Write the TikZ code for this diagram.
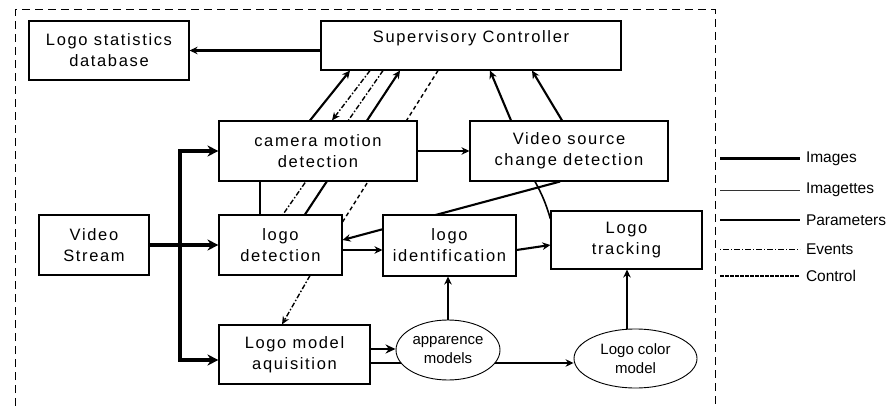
\documentclass[tikz,border=0pt]{standalone}
\usepackage{fontspec}
\setmainfont{Liberation Sans}
\newfontfamily\boxfont{Liberation Sans}[LetterSpace=10]
\usetikzlibrary{arrows.meta,shapes.geometric,calc}
\pgfdeclarelayer{bg}
\pgfsetlayers{bg,main}
\begin{document}
\begin{tikzpicture}[x=1pt,y=-1pt,
  box/.style={draw=black,line width=1.1pt,fill=white,inner sep=0pt,align=center,font=\boxfont\fontsize{16.5}{21}\selectfont},
  oval/.style={ellipse,draw=black,line width=0.9pt,fill=white,inner sep=0pt,align=center,font=\fontsize{15}{19}\selectfont},
  txt/.style={inner sep=0pt,font=\boxfont\fontsize{16.5}{21}\selectfont},
  legtxt/.style={anchor=west,inner sep=0pt,outer xsep=6pt,font=\fontsize{15.5}{18}\selectfont},
  img/.style={line width=3.4pt,-{Stealth[length=11pt,width=11pt]}},
  imgb/.style={line width=2.6pt,-{Stealth[length=10pt,width=9pt]}},
  par/.style={line width=2.1pt,-{Stealth[length=8pt,width=7.5pt]}},
  parline/.style={line width=2.1pt},
  evt/.style={line width=1.4pt,dash pattern=on 5pt off 2pt on 1.5pt off 2pt,-{Stealth[length=8pt,width=7pt]}},
  evtline/.style={line width=1.4pt,dash pattern=on 5pt off 2pt on 1.5pt off 2pt},
  ctlline/.style={line width=1.4pt,dash pattern=on 4pt off 3pt},
  border/.style={line width=1pt,dash pattern=on 8pt off 5pt}
]
\useasboundingbox (0,0) rectangle (891,406);

% nodes
\node[box,minimum width=160pt,minimum height=59pt] (db) at (109,50.5) {Logo statistics\\database};
\node[box,minimum width=300pt,minimum height=49pt] (sup) at (471,45.5) {};
\node[txt] (supt) at (471,38) {Supervisory Controller};
\node[box,minimum width=198pt,minimum height=60pt] (cam) at (318,151) {camera motion\\detection};
\node[box,minimum width=198pt,minimum height=60pt] (vscd) at (569,151) {Video source\\change detection};
\node[box,minimum width=110pt,minimum height=60pt] (vs) at (94,245) {Video\\Stream};
\node[box,minimum width=123pt,minimum height=60pt] (ld) at (280.5,245) {logo\\detection};
\node[box,minimum width=133pt,minimum height=61pt] (lid) at (449.5,245.5) {logo\\identification};
\node[box,minimum width=151pt,minimum height=58pt] (lt) at (626.5,240) {Logo\\tracking};
\node[box,minimum width=151pt,minimum height=59pt] (lma) at (294.5,354.5) {Logo model\\aquisition};
\node[oval,minimum width=104pt,minimum height=60pt] (am) at (448,350) {apparence\\models};
\node[oval,minimum width=123pt,minimum height=59pt] (lcm) at (635.5,358.5) {Logo color\\model};

% legend
\node[legtxt] (l1) at (800,159) {Images};
\node[legtxt] (l2) at (800,190) {Imagettes};
\node[legtxt] (l3) at (800,220) {Parameters};
\node[legtxt] (l4) at (800,249) {Events};
\node[legtxt] (l5) at (800,276) {Control};
\coordinate (l1s) at (720,159);
\coordinate (l2s) at (720,190);
\coordinate (l3s) at (720,220);
\coordinate (l4s) at (720,249);
\coordinate (l5s) at (720,276);
\draw[line width=3pt] (l1s) -- (l1.west);
\draw[line width=0.9pt,black!80] (l2s) -- (l2.west);
\draw[line width=1.1pt] (l3s) -- (l3.west);
\draw[line width=1pt,dash pattern=on 1pt off 2pt on 6pt off 2pt] (l4s) -- (l4.west);
\draw[line width=2pt,dash pattern=on 3.5pt off 1.5pt] (l5s) -- (l5.west);

\begin{pgfonlayer}{bg}
% border
\coordinate (b1) at (15,406);
\coordinate (b2) at (15,10);
\coordinate (b3) at (715,10);
\coordinate (b4) at (715,406);
\draw[border] (b1) -- (b2) -- (b3) -- (b4);

% supervisory -> database
\draw[par] (sup.west |- db.east) -- (db.east);

% video stream distribution
\coordinate (jx) at (180,0);
\coordinate (jn) at (vs.east -| jx);
\draw[img] (vs.east) -- (ld.west);
\draw[img] (jn) |- (cam.west);
\draw[img] (jn) |- ([yshift=-5.5pt]lma.west);

% camera motion -> video source change
\draw[par] (cam.east) -- (vscd.west);
% camera motion - logo detection
\coordinate (vx) at (260,0);
\draw[parline] (cam.south -| vx) -- (ld.north -| vx);

% diagonals with supervisory
\draw[par] ([xshift=-8pt]cam.north) -- ([xshift=-121pt]sup.south);
\draw[evt] ([xshift=-101pt]sup.south) -- ([xshift=14pt]cam.north);
\draw[evtline] ([xshift=-88pt]sup.south) -- ([xshift=2.5pt]ld.north);
\draw[par] ([xshift=24.5pt]ld.north) -- ([xshift=-71pt]sup.south);
\draw[ctlline] ([xshift=-33pt]sup.south) -- ([yshift=23pt]ld.east);

% video source change -> supervisory
\draw[par] ([xshift=-58pt]vscd.north) -- ([xshift=19pt]sup.south);
\draw[par] ([xshift=-7pt]vscd.north) -- ([xshift=61pt]sup.south);
% video source change -> logo detection
\draw[par] ([xshift=-9pt]vscd.south) -- ([yshift=5pt]ld.east);
% video source change - logo tracking
\draw[line width=1.6pt] ([xshift=-34pt]vscd.south) to[bend left=6] ([yshift=21pt]lt.west);

% logo detection -> identification -> tracking
\draw[par] ([yshift=-5pt]ld.east) -- ([yshift=-5pt]ld.east -| lid.west);
\draw[par] ([yshift=-4.5pt]lid.east) -- ([yshift=-5pt]lt.west);
% models
\draw[par] (am.north) -- (am.north |- lid.south);
\draw[par] ([xshift=-8.5pt]lcm.north) -- ([xshift=-8.5pt]lcm.north |- lt.south);
\draw[par] ([yshift=-8.5pt]lma.east) -- ([yshift=-8.5pt]lma.east -| lcm.west);
\draw[imgb] ([yshift=5.5pt]lma.east) -- ([yshift=5.5pt]lma.east -| am.west);
% logo detection -> model acquisition
\draw[evt] ([xshift=29.5pt]ld.south) -- ([xshift=-12.5pt]lma.north);
\end{pgfonlayer}
\end{tikzpicture}
\end{document}
